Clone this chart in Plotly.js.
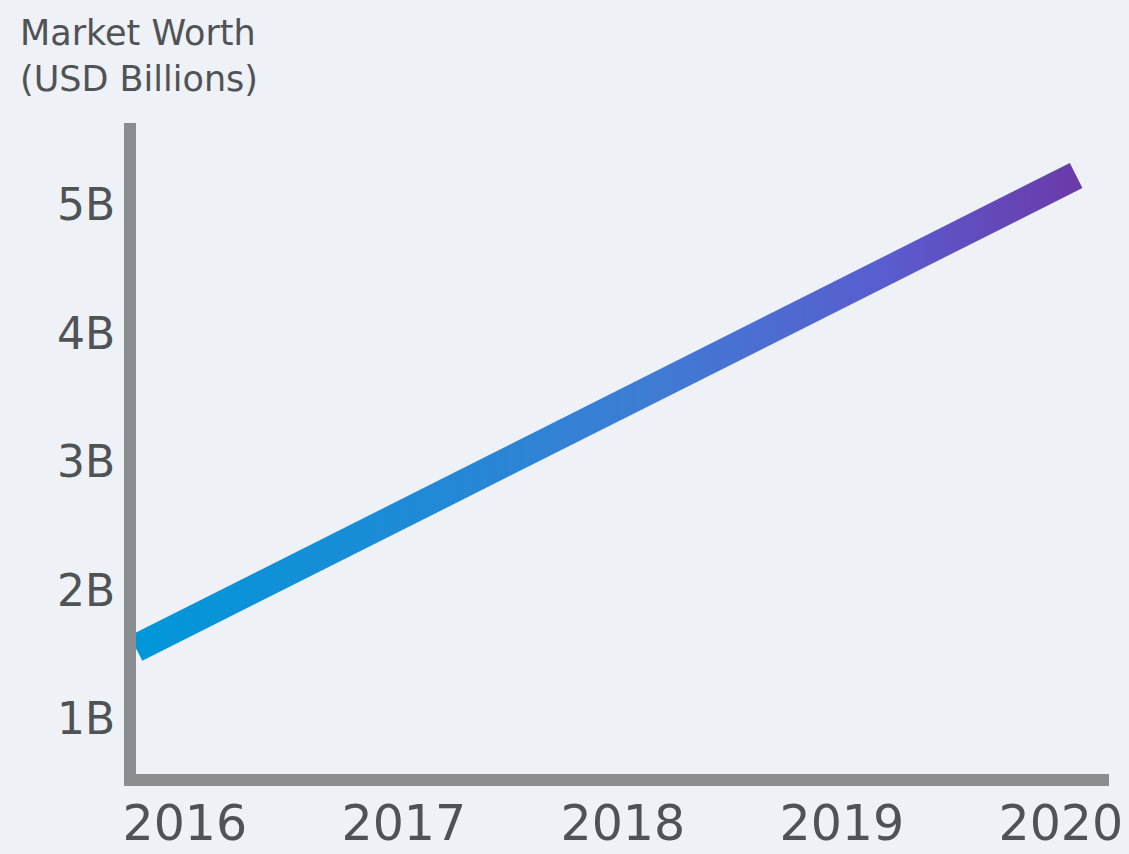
<!DOCTYPE html>
<html>
<head>
<meta charset="utf-8">
<script src="https://cdn.plot.ly/plotly-3.0.1.min.js"></script>
<style>
  html, body { margin: 0; padding: 0; background: #eef1f5; }
  #chart { width: 1129px; height: 854px; }
</style>
</head>
<body>
<div id="chart"></div>
<script>
// ---- data ----
const years = [2016, 2017, 2018, 2019, 2020];
const marketWorth = [1.55, 2.47, 3.39, 4.31, 5.23]; // USD billions
const yTickVals = [1, 2, 3, 4, 5];
const yTickText = ['1B', '2B', '3B', '4B', '5B'];
const xTickText = ['2016', '2017', '2018', '2019', '2020'];
const titleLines = ['Market Worth', '(USD Billions)'];

const FONT = '"DejaVu Sans", "Noto Sans", sans-serif';
const TXT = '#505356';
const AXIS = '#8a8d90';
const BG = '#eef1f5';

const trace = {
  x: years,
  y: marketWorth,
  xaxis: 'x',
  yaxis: 'y',
  mode: 'lines',
  line: { color: '#3f7fd4', width: 28 },
  hoverinfo: 'skip',
  showlegend: false
};

const labelAxisTrace = { x: [], y: [], xaxis: 'x2', yaxis: 'y', hoverinfo: 'skip', showlegend: false };

const layout = {
  width: 1129,
  height: 854,
  paper_bgcolor: BG,
  plot_bgcolor: BG,
  margin: { l: 136, r: 20, t: 123, b: 80 },
  showlegend: false,
  annotations: [{
    text: titleLines.join('<br>'),
    xref: 'paper', yref: 'paper',
    x: -0.121, xanchor: 'left',
    y: 1.172, yanchor: 'top',
    align: 'left', showarrow: false,
    font: { family: FONT, size: 35, color: TXT }
  }],
  xaxis: {
    range: [2016, 2020.14],
    showgrid: false, zeroline: false,
    showline: true, linecolor: AXIS, linewidth: 12,
    showticklabels: false, ticks: ''
  },
  xaxis2: {
    overlaying: 'x', anchor: 'y', side: 'bottom',
    range: [2015.777, 2020.22],
    tickvals: years, ticktext: xTickText,
    showgrid: false, zeroline: false, showline: false,
    ticks: '', ticklabeloverflow: 'allow', ticklabelstandoff: 16,
    tickfont: { family: FONT, size: 49, color: TXT }
  },
  yaxis: {
    range: [0.571, 5.639],
    tickvals: yTickVals, ticktext: yTickText,
    showgrid: false, zeroline: false,
    showline: true, linecolor: AXIS, linewidth: 12,
    ticks: '',
    tickfont: { family: FONT, size: 44, color: TXT }
  }
};

Plotly.newPlot('chart', [trace, labelAxisTrace], layout, { staticPlot: true }).then(function (gd) {
  // gradient stroke for the line (blue -> purple)
  const svgNS = 'http://www.w3.org/2000/svg';
  const defs = gd.querySelector('.main-svg defs');
  const grad = document.createElementNS(svgNS, 'linearGradient');
  grad.setAttribute('id', 'lineGrad');
  grad.setAttribute('x1', '0'); grad.setAttribute('y1', '0');
  grad.setAttribute('x2', '1'); grad.setAttribute('y2', '0');
  [['0', '#0097d9'], ['0.3', '#1f8ad6'], ['0.55', '#3f7cd4'], ['0.8', '#5a5ccf'], ['1', '#6b3aa9']].forEach(function (s) {
    const st = document.createElementNS(svgNS, 'stop');
    st.setAttribute('offset', s[0]);
    st.setAttribute('stop-color', s[1]);
    grad.appendChild(st);
  });
  defs.appendChild(grad);
  gd.querySelectorAll('.scatterlayer .trace path.js-line').forEach(function (p) {
    p.style.stroke = 'url(#lineGrad)';
    p.style.strokeLinecap = 'butt';
  });
});
</script>
</body>
</html>
